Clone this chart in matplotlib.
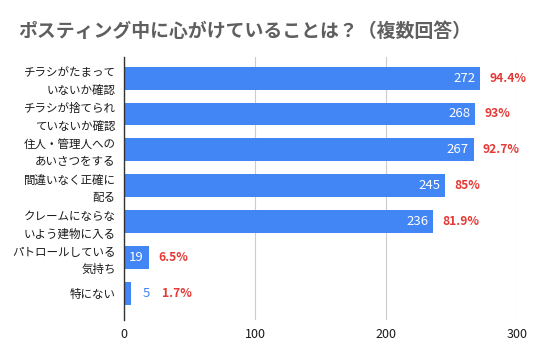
import matplotlib
matplotlib.use("Agg")
import matplotlib.pyplot as plt

plt.rcParams['font.family'] = ['Noto Sans CJK JP', 'DejaVu Sans']

title = "ポスティング中に心がけていることは？（複数回答）"
categories = [
    "チラシがたまって\nいないか確認",
    "チラシが捨てられ\nていないか確認",
    "住人・管理人への\nあいさつをする",
    "間違いなく正確に\n配る",
    "クレームにならな\nいよう建物に入る",
    "パトロールしている\n気持ち",
    "特にない",
]
counts = [272, 268, 267, 245, 236, 19, 5]
percents = ["94.4%", "93%", "92.7%", "85%", "81.9%", "6.5%", "1.7%"]
xticks = [0, 100, 200, 300]

W, H = 536, 356
fig = plt.figure(figsize=(W / 100, H / 100), dpi=100)
ax = fig.add_axes([124 / W, 1 - 320 / H, (517 - 124) / W, (320 - 57) / H])

bar_color = "#4285F4"
ypos = list(range(len(categories)))
ax.barh(ypos, counts, height=0.64, color=bar_color, zorder=3)

ax.set_xlim(0, 300)
ax.set_ylim(6.75, -0.59)
ax.set_yticks(ypos)
ax.set_yticklabels(categories, fontsize=8.3, color="#1a1a1a", linespacing=1.42)
ax.set_xticks(xticks)
ax.set_xticklabels([str(x) for x in xticks], fontsize=9, color="#1a1a1a")
ax.tick_params(axis="y", length=0, pad=6)
ax.tick_params(axis="x", length=0, pad=6)
ax.grid(axis="x", color="#cccccc", linewidth=0.8, zorder=0)
for s in ["top", "right", "bottom"]:
    ax.spines[s].set_visible(False)
ax.spines["left"].set_color("#333333")
ax.spines["left"].set_linewidth(1.0)
ax.spines["left"].set_zorder(5)

for y, c, p in zip(ypos, counts, percents):
    if c >= 15:
        ax.annotate(str(c), (c, y), xytext=(-3.5, 0), textcoords="offset points",
                    ha="right", va="center", color="white", fontsize=9.5, zorder=4)
        ax.annotate(p, (c, y), xytext=(6.5, 0), textcoords="offset points",
                    ha="left", va="center", color="#E53935", fontsize=8.7,
                    fontweight="bold", zorder=4)
    else:
        ax.annotate(str(c), (c, y), xytext=(9, 0), textcoords="offset points",
                    ha="left", va="center", color="#4285F4", fontsize=9.5, zorder=4)
        ax.annotate(p, (c, y), xytext=(23, 0), textcoords="offset points",
                    ha="left", va="center", color="#E53935", fontsize=8.7,
                    fontweight="bold", zorder=4)

fig.text(18 / W, 1 - 31 / H, title, fontsize=13.6, fontweight="bold",
         color="#5f5f5f", ha="left", va="center")

fig.savefig("out.png", dpi=100, facecolor="white")
